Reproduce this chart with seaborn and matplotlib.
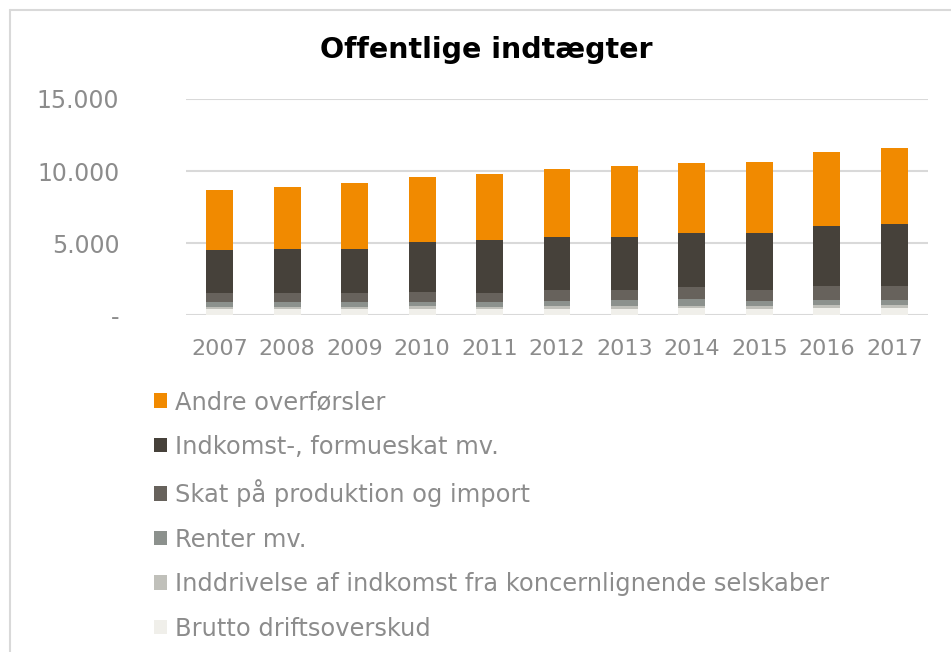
import numpy as np
import pandas as pd
import matplotlib
matplotlib.use("Agg")
import matplotlib.pyplot as plt
from matplotlib.patches import Patch
from matplotlib.lines import Line2D
import seaborn as sns

years = ["2007", "2008", "2009", "2010", "2011", "2012", "2013", "2014", "2015", "2016", "2017"]
brutto_driftsoverskud = [440, 450, 450, 460, 460, 470, 480, 490, 480, 520, 540]
inddrivelse = [120, 170, 170, 170, 120, 160, 150, 190, 150, 180, 180]
renter = [350, 290, 290, 290, 330, 350, 420, 440, 350, 350, 330]
skat_produktion = [680, 680, 680, 680, 680, 770, 750, 820, 820, 980, 980]
indkomstskat = [2940, 3030, 3050, 3500, 3610, 3670, 3660, 3750, 3890, 4180, 4290]
andre_overfoersler = [4170, 4280, 4540, 4520, 4630, 4730, 4880, 4860, 4930, 5140, 5290]

series_names = ["Andre overførsler", "Indkomst-, formueskat mv.", "Skat på produktion og import",
                "Renter mv.", "Inddrivelse af indkomst fra koncernlignende selskaber",
                "Brutto driftsoverskud"]
colors = ["#F18A00", "#46413A", "#67625C", "#8C918D", "#C0C0BA", "#F0EFEA"]
ytick_vals = [0, 5000, 10000, 15000]
ytick_labels = ["-", "5.000", "10.000", "15.000"]

# stacking order bottom -> top
stack = [brutto_driftsoverskud, inddrivelse, renter, skat_produktion, indkomstskat, andre_overfoersler]
stack_colors = colors[::-1]

sns.set_theme(style="white")
plt.rcParams["font.family"] = ["DejaVu Sans"]

fig = plt.figure(figsize=(9.51, 6.52), dpi=100)
ax = fig.add_axes([186 / 951, 1 - 315.5 / 652, (928 - 186) / 951, (315.5 - 99) / 652])

cum = np.cumsum(np.array(stack), axis=0)
# draw from the top cumulative down so lower segments overlay
for i in range(len(stack) - 1, -1, -1):
    df = pd.DataFrame({"year": years, "value": cum[i]})
    sns.barplot(data=df, x="year", y="value", color=stack_colors[i], width=0.4,
                saturation=1, ax=ax, linewidth=0, zorder=3)

ax.set_ylim(0, 15000)
ax.set_xlim(-0.5, len(years) - 0.5)
ax.set_yticks(ytick_vals)
ax.set_yticklabels(ytick_labels)
ax.yaxis.grid(True, color="#D9D9D9", linewidth=1.5, zorder=0)
ax.set_axisbelow(True)
for s in ax.spines.values():
    s.set_visible(False)
ax.set_xlabel("")
ax.set_ylabel("")
ax.tick_params(axis="y", length=0, pad=48, labelsize=17, labelcolor="#8C8C8C")
ax.tick_params(axis="x", length=0, pad=17, labelsize=16, labelcolor="#8C8C8C")

fig.text(486 / 951, 1 - 50 / 652, "Offentlige indtægter", ha="center", va="center",
         fontsize=20.5, fontweight="bold", color="black")

# chart border
fig.add_artist(Line2D([10 / 951, 10 / 951], [0, 1 - 10 / 652], color="#D9D9D9", lw=1.5))
fig.add_artist(Line2D([10 / 951, 1], [1 - 10 / 652, 1 - 10 / 652], color="#D9D9D9", lw=1.5))

handles = [Patch(facecolor=c, edgecolor="none") for c in colors]
leg = fig.legend(handles, series_names, loc="upper left",
                 bbox_to_anchor=(154 / 951, 1 - 390 / 652), frameon=False,
                 fontsize=17.4, labelcolor="#8C8C8C", handlelength=0.55, handleheight=0.55,
                 handletextpad=0.3, labelspacing=0.85, borderaxespad=0, borderpad=0)

fig.savefig("out.png", dpi=100, facecolor="white")
